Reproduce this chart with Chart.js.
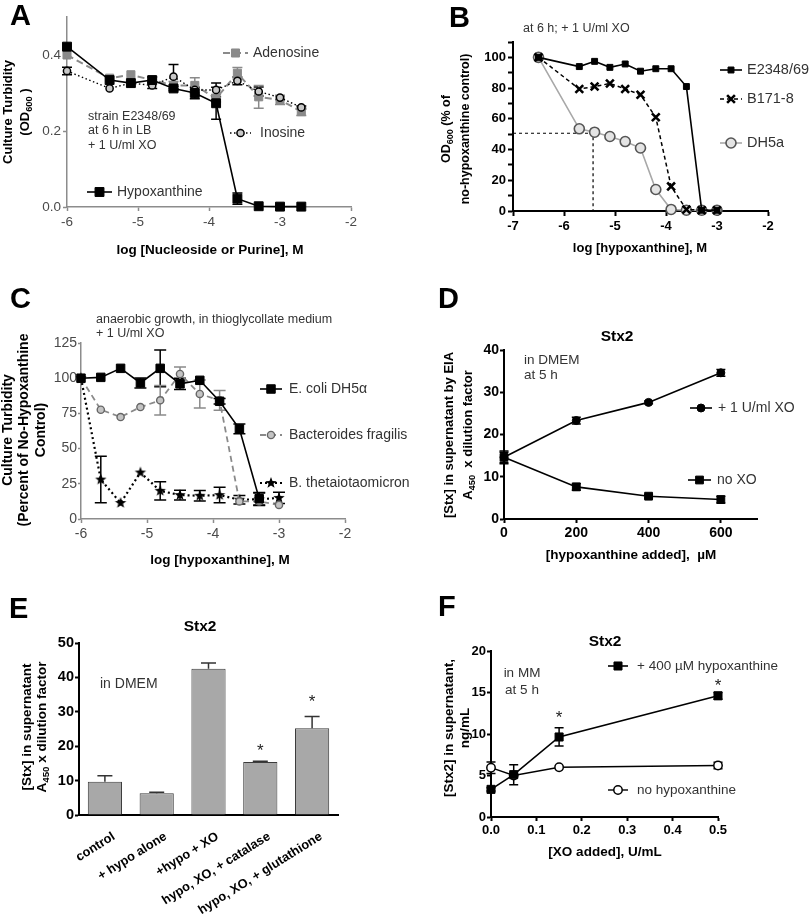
<!DOCTYPE html>
<html>
<head>
<meta charset="utf-8">
<title>Hypoxanthine / xanthine oxidase figure</title>
<script src="https://cdn.jsdelivr.net/npm/chart.js@4.4.1/dist/chart.umd.min.js"></script>
<style>
  body { margin: 0; background: #fff; }
  #fig { position: relative; width: 812px; height: 916px; overflow: hidden; }
  #fig canvas { position: absolute; }
  .tag { position: absolute; font: bold 29px "Liberation Sans", Arial, sans-serif; line-height: 29px; color: #000; }
</style>
</head>
<body>
<div id="fig">
  <canvas id="panel-a"></canvas>
  <canvas id="panel-b"></canvas>
  <canvas id="panel-c"></canvas>
  <canvas id="panel-d"></canvas>
  <canvas id="panel-e"></canvas>
  <canvas id="panel-f"></canvas>
  <div class="tag" style="left:10px;top:1px">A</div>
  <div class="tag" style="left:449px;top:3px">B</div>
  <div class="tag" style="left:10px;top:284px">C</div>
  <div class="tag" style="left:438px;top:284px">D</div>
  <div class="tag" style="left:9px;top:594px">E</div>
  <div class="tag" style="left:438px;top:592px">F</div>
</div>
<script>
const FONT = '"Liberation Sans", Arial, Helvetica, sans-serif';

/* A - turbidity vs log [nucleoside or purine] */
const aLogConc  = [-6, -5.4, -5.1, -4.8, -4.5, -4.2, -3.9, -3.6, -3.3, -3.0, -2.7];
const aHypo     = [0.422, 0.334, 0.326, 0.334, 0.312, 0.300, 0.273, 0.022, 0.002, 0.001, 0.001];
const aHypoErr  = [0, 0, 0, 0.008, 0.006, 0.015, 0.042, 0.015, 0, 0, 0];
const aIno      = [0.358, 0.312, 0.326, 0.320, 0.343, 0.308, 0.308, 0.332, 0.304, 0.288, 0.262];
const aInoErr   = [0.01, 0, 0, 0.008, 0.032, 0, 0.018, 0.01, 0.012, 0.005, 0.004];
const aAdeno    = [0.400, 0.339, 0.348, 0.334, 0.320, 0.320, 0.286, 0.352, 0.290, 0.282, 0.251];
const aAdenoErr = [0, 0, 0, 0, 0.01, 0.02, 0.01, 0.015, 0.03, 0.012, 0.01];

/* B - % of no-hypoxanthine control, three strains */
const bLogConc = [-6.5, -5.7, -5.4, -5.1, -4.8, -4.5, -4.2, -3.9, -3.6, -3.3, -3.0];
const bE2348   = [100, 94, 97.4, 93.5, 95.7, 91, 92.6, 92.6, 81, 0.5, 0.5];
const bB171    = [100, 79.4, 81, 83, 79.4, 75.7, 61, 16, 1, 0.5, 0.5];
const bDH5a    = [100, 53.5, 51.3, 48.5, 45.2, 41, 14, 1, 0.5, 0.5, 0.5];
const bHalfX   = [-7, -5.43, -5.43];   // dashed guide to the DH5a 50% point
const bHalfY   = [50.6, 50.6, 0];

/* C - anaerobic growth */
const cLogConc  = [-6, -5.7, -5.4, -5.1, -4.8, -4.5, -4.2, -3.9, -3.6, -3.3, -3.0];
const cEcoli    = [100, 100.6, 107, 96.6, 107, 96, 98.5, 83.6, 64, 14.4, null];
const cEcoliErr = [0, 0, 0, 3.5, 13, 4, 0, 2, 3.5, 4.5, 0];
const cFrag     = [100, 77.6, 72.4, 79.5, 84.3, 103, 88.8, 84.3, 12.5, 12.5, 10];
const cFragErr  = [0, 0, 0, 0, 10.5, 5, 10, 7, 0, 0, 0];
const cTheta    = [100, 28, 11.4, 33, 20, 17, 16.5, 17, 13.7, 14, 15];
const cThetaErr = [0, 16.5, 0, 0, 6.5, 3.5, 3.7, 5.5, 3, 4.5, 4];

/* D - Stx by EIA vs hypoxanthine */
const dHypo     = [0, 200, 400, 600];
const dXO       = [14.6, 23.3, 27.6, 34.6];
const dXOErr    = [1.5, 0.8, 0.3, 0.8];
const dNoXO     = [14.6, 7.6, 5.4, 4.6];
const dNoXOErr  = [1.2, 0.8, 0.4, 0.8];

/* E - Stx2 bars */
const eLabels = ['control', '+ hypo alone', '+hypo + XO', 'hypo, XO, + catalase', 'hypo, XO, + glutathione'];
const eStx    = [9.7, 6.3, 42.5, 15.4, 25.2];
const eStxErr = [1.7, 0.3, 1.7, 0.2, 3.4];
const eStars  = [null, null, null, 19.9, 34];

/* F - Stx2 vs XO */
const fXO        = [0, 0.05, 0.15, 0.5];
const fHypo      = [3.33, 5.1, 9.64, 14.6];
const fHypoErr   = [0.2, 1.2, 1.1, 0.4];
const fNoHypo    = [5.94, 5.0, 6.0, 6.2];
const fNoHypoErr = [0.7, 0, 0, 0.4];
const fStars     = [null, null, 12.4, 16.3];

function pts(xs, ys) {
  const out = [];
  xs.forEach((x, i) => { if (ys[i] !== null) out.push({ x: x, y: ys[i] }); });
  return out;
}

// filled star marker for B. thetaiotaomicron
function starImage(r) {
  const c = document.createElement('canvas');
  c.width = c.height = 2 * r + 2;
  const g = c.getContext('2d');
  g.fillStyle = '#000';
  g.beginPath();
  for (let k = 0; k < 10; k++) {
    const rr = k % 2 ? r * 0.42 : r;
    const a = -Math.PI / 2 + k * Math.PI / 5;
    g.lineTo(r + 1 + rr * Math.cos(a), r + 1 + rr * Math.sin(a));
  }
  g.closePath();
  g.fill();
  return c;
}

// text with _{sub} parts, optionally rotated
function drawRich(ctx, t, x, y) {
  const size = t.size || 14;
  const weight = t.bold ? 'bold ' : '';
  const parts = t.text.split(/(_\{[^}]*\})/).filter(s => s).map(s =>
    s.indexOf('_{') === 0 ? { s: s.slice(2, -1), sub: true } : { s: s, sub: false });
  ctx.save();
  ctx.translate(x, y);
  if (t.rot) ctx.rotate(t.rot * Math.PI / 180);
  ctx.fillStyle = t.color || '#000';
  ctx.textBaseline = 'middle';
  ctx.textAlign = 'left';
  let total = 0;
  parts.forEach(p => {
    p.font = weight + (p.sub ? size * 0.72 : size) + 'px ' + FONT;
    ctx.font = p.font;
    p.w = ctx.measureText(p.s).width;
    total += p.w;
  });
  let cx = t.align === 'left' ? 0 : (t.align === 'right' ? -total : -total / 2);
  parts.forEach(p => {
    ctx.font = p.font;
    ctx.fillText(p.s, cx, p.sub ? size * 0.32 : 0);
    cx += p.w;
  });
  ctx.restore();
}

function drawErr(chart) {
  const ctx = chart.ctx;
  const ys = chart.scales.y;
  chart.data.datasets.forEach((ds, i) => {
    if (!ds.err) return;
    const meta = chart.getDatasetMeta(i);
    ctx.save();
    ctx.strokeStyle = ds.errColor || ds.borderColor;
    ctx.lineWidth = ds.errWidth || 1.5;
    ctx.setLineDash([]);
    meta.data.forEach((el, j) => {
      const e = ds.err[j];
      if (!e) return;
      const d = ds.data[j];
      const v = typeof d === 'object' ? d.y : d;
      const top = ys.getPixelForValue(v + e);
      const bot = ds.errUp ? ys.getPixelForValue(v) : ys.getPixelForValue(v - e);
      const w = ds.errCap || 4;
      ctx.beginPath();
      ctx.moveTo(el.x, top); ctx.lineTo(el.x, bot);
      ctx.moveTo(el.x - w, top); ctx.lineTo(el.x + w, top);
      if (!ds.errUp) { ctx.moveTo(el.x - w, bot); ctx.lineTo(el.x + w, bot); }
      ctx.stroke();
    });
    ctx.restore();
  });
}

const errorBars = {
  id: 'errorBars',
  beforeDatasetsDraw(chart) { if (chart.config.type !== 'bar') drawErr(chart); },
  afterDatasetsDraw(chart) { if (chart.config.type === 'bar') drawErr(chart); }
};
Chart.register(errorBars);

// titles and notes, positions given in page pixels
function textLayer(items) {
  return {
    id: 'textLayer',
    afterDraw(chart) {
      const ox = chart.canvas.offsetLeft, oy = chart.canvas.offsetTop;
      items.forEach(t => drawRich(chart.ctx, t, t.x - ox, t.y - oy));
    }
  };
}

// legend entries placed next to the curves
function inlineLegend(items, size) {
  return {
    id: 'inlineLegend',
    afterDraw(chart) {
      const ctx = chart.ctx;
      const ox = chart.canvas.offsetLeft, oy = chart.canvas.offsetTop;
      items.forEach(it => {
        const ds = chart.data.datasets[it.ds];
        const y = it.y - oy;
        ctx.save();
        ctx.strokeStyle = ds.borderColor;
        ctx.lineWidth = ds.borderWidth;
        ctx.setLineDash(ds.borderDash || []);
        ctx.beginPath();
        ctx.moveTo(it.x1 - ox, y);
        ctx.lineTo(it.x2 - ox, y);
        ctx.stroke();
        ctx.setLineDash([]);
        ctx.fillStyle = ds.pointBackgroundColor;
        ctx.strokeStyle = ds.pointBorderColor;
        ctx.lineWidth = ds.pointBorderWidth;
        Chart.helpers.drawPoint(ctx, { pointStyle: ds.pointStyle, radius: ds.pointRadius,
          borderWidth: ds.pointBorderWidth, rotation: 0 }, (it.x1 + it.x2) / 2 - ox, y);
        ctx.restore();
        drawRich(ctx, { text: it.text, size: size, color: '#333', align: 'left' }, it.tx - ox, y);
      });
    }
  };
}

// significance asterisks
function starMarks(xs, ys) {
  return {
    id: 'starMarks',
    afterDatasetsDraw(chart) {
      const ctx = chart.ctx;
      xs.forEach((x, i) => {
        if (ys[i] === null) return;
        const px = chart.scales.x.getPixelForValue(x);
        const py = chart.scales.y.getPixelForValue(ys[i]);
        ctx.save();
        ctx.font = '17px ' + FONT;
        ctx.fillStyle = '#222';
        ctx.textAlign = 'center';
        ctx.textBaseline = 'alphabetic';
        ctx.fillText('*', px, py + 9);
        ctx.restore();
      });
    }
  };
}

function axis(o) {
  const ax = {
    type: o.type || 'linear',
    border: { display: true, color: o.color, width: o.bw },
    grid: { display: o.marks !== false, drawOnChartArea: false, drawTicks: true,
            tickLength: o.tl, tickColor: o.color, tickWidth: o.bw, color: o.color },
    ticks: { color: o.tc, padding: o.pad, autoSkip: false, includeBounds: false,
             maxRotation: o.rot || 0, minRotation: o.rot || 0,
             font: { family: FONT, size: o.fs, weight: o.bold ? 'bold' : 'normal' } }
  };
  if (o.min !== undefined) { ax.min = o.min; ax.max = o.max; }
  if (o.step) ax.ticks.stepSize = o.step;
  if (o.cb) ax.ticks.callback = o.cb;
  if (o.shift) ax.ticks.labelOffset = o.shift;
  return ax;
}

// box = canvas [left, top, w, h]; area = plot [left, top, right, bottom], page pixels
function makeChart(id, box, area, config) {
  const cv = document.getElementById(id);
  cv.width = box[2];
  cv.height = box[3];
  cv.style.left = box[0] + 'px';
  cv.style.top = box[1] + 'px';
  const o = config.options;
  o.responsive = false;
  o.animation = false;
  o.events = [];
  o.layout = { autoPadding: false,
    padding: { left: 0, top: area[1] - box[1], right: box[0] + box[2] - area[2], bottom: 0 } };
  o.plugins = { legend: { display: false }, tooltip: { enabled: false } };
  o.scales.y.afterFit = s => { s.width = area[0] - box[0]; };
  o.scales.x.afterFit = s => { s.height = box[1] + box[3] - area[3]; };
  config.data.datasets.forEach(ds => { ds.clip = false; });
  return new Chart(cv, config);
}

const GRAY_AX = { color: '#8c8c8c', bw: 1.5, tc: '#4a4a4a' };
const BLACK_AX = { color: '#000', bw: 2, tc: '#000', bold: true };
const NOTE = '#333';

/* ---------- A ---------- */
makeChart('panel-a', [0, 0, 400, 290], [67, 17, 351, 207], {
  type: 'line',
  data: { datasets: [
    { label: 'Hypoxanthine', data: pts(aLogConc, aHypo), err: aHypoErr, errCap: 5,
      borderColor: '#000', borderWidth: 1.6, pointStyle: 'rect', pointRadius: 6.3,
      pointBackgroundColor: '#000', pointBorderColor: '#000', pointBorderWidth: 1 },
    { label: 'Inosine', data: pts(aLogConc, aIno), err: aInoErr, errCap: 5,
      borderColor: '#000', borderWidth: 1.4, borderDash: [1.5, 2.5], pointStyle: 'circle', pointRadius: 3.6,
      pointBackgroundColor: '#c8c8c8', pointBorderColor: '#000', pointBorderWidth: 1.5 },
    { label: 'Adenosine', data: pts(aLogConc, aAdeno), err: aAdenoErr, errCap: 5, errColor: '#8a8a8a',
      borderColor: '#8a8a8a', borderWidth: 2, borderDash: [7, 4], pointStyle: 'rect', pointRadius: 5.7,
      pointBackgroundColor: '#8a8a8a', pointBorderColor: '#8a8a8a', pointBorderWidth: 1 }
  ]},
  options: { scales: {
    x: axis(Object.assign({ min: -6, max: -2, step: 1, tl: 4, pad: 3, fs: 13.5 }, GRAY_AX)),
    y: axis(Object.assign({ min: 0, max: 0.5, step: 0.2, tl: 4, pad: 2, fs: 13.5, cb: v => v.toFixed(1) }, GRAY_AX))
  }},
  plugins: [
    textLayer([
      { text: 'Culture Turbidity', x: 8, y: 112, size: 13, bold: true, rot: -90 },
      { text: '(OD_{600} )', x: 25, y: 112, size: 13, bold: true, rot: -90 },
      { text: 'log [Nucleoside or Purine], M', x: 210, y: 250, size: 13.5, bold: true },
      { text: 'strain E2348/69', x: 88, y: 117, size: 12.5, align: 'left', color: NOTE },
      { text: 'at 6 h in LB', x: 88, y: 131, size: 12.5, align: 'left', color: NOTE },
      { text: '+ 1 U/ml XO', x: 88, y: 146, size: 12.5, align: 'left', color: NOTE }
    ]),
    inlineLegend([
      { ds: 2, x1: 223, x2: 248, tx: 253, y: 53, text: 'Adenosine' },
      { ds: 1, x1: 230, x2: 251, tx: 260, y: 133, text: 'Inosine' },
      { ds: 0, x1: 87, x2: 112, tx: 117, y: 192, text: 'Hypoxanthine' }
    ], 14)
  ]
});

/* ---------- B ---------- */
makeChart('panel-b', [400, 0, 412, 290], [513, 42, 768, 211], {
  type: 'line',
  data: { datasets: [
    { label: 'E2348/69', data: pts(bLogConc, bE2348),
      borderColor: '#000', borderWidth: 1.6, pointStyle: 'rect', pointRadius: 4.2,
      pointBackgroundColor: '#000', pointBorderColor: '#000', pointBorderWidth: 1 },
    { label: 'B171-8', data: pts(bLogConc, bB171),
      borderColor: '#000', borderWidth: 1.5, borderDash: [4, 3], pointStyle: 'crossRot', pointRadius: 5.5,
      pointBackgroundColor: '#000', pointBorderColor: '#000', pointBorderWidth: 2.6 },
    { label: 'DH5a', data: pts(bLogConc, bDH5a),
      borderColor: '#a8a8a8', borderWidth: 1.6, pointStyle: 'circle', pointRadius: 5,
      pointBackgroundColor: '#e4e4e4', pointBorderColor: '#555', pointBorderWidth: 1.6 },
    { label: 'half', data: pts(bHalfX, bHalfY),
      borderColor: '#000', borderWidth: 1.2, borderDash: [3, 3], pointRadius: 0 }
  ]},
  options: { scales: {
    x: axis(Object.assign({ min: -7, max: -2, step: 1, tl: 5, pad: 3, fs: 13 }, BLACK_AX)),
    y: axis(Object.assign({ min: 0, max: 110, step: 10, tl: 5, pad: 2, fs: 13,
                            cb: v => (v % 20 === 0 ? v : '') }, BLACK_AX))
  }},
  plugins: [
    textLayer([
      { text: 'at 6 h; + 1 U/ml XO', x: 523, y: 29, size: 12.5, align: 'left', color: NOTE },
      { text: 'OD_{600} (% of', x: 447, y: 129, size: 12.5, bold: true, rot: -90 },
      { text: 'no-hypoxanthine control)', x: 466, y: 129, size: 12.5, bold: true, rot: -90 },
      { text: 'log [hypoxanthine], M', x: 640, y: 248, size: 13, bold: true }
    ]),
    inlineLegend([
      { ds: 0, x1: 720, x2: 742, tx: 747, y: 70, text: 'E2348/69' },
      { ds: 1, x1: 720, x2: 742, tx: 747, y: 99, text: 'B171-8' },
      { ds: 2, x1: 720, x2: 742, tx: 747, y: 143, text: 'DH5a' }
    ], 14.5)
  ]
});

/* ---------- C ---------- */
makeChart('panel-c', [0, 290, 420, 310], [81, 343, 345, 519], {
  type: 'line',
  data: { datasets: [
    { label: 'E. coli DH5\u03b1', data: pts(cLogConc, cEcoli), err: cEcoliErr, errCap: 6,
      borderColor: '#000', borderWidth: 1.6, pointStyle: 'rect', pointRadius: 6,
      pointBackgroundColor: '#000', pointBorderColor: '#000', pointBorderWidth: 1 },
    { label: 'Bacteroides fragilis', data: pts(cLogConc, cFrag), err: cFragErr, errCap: 6, errColor: '#8a8a8a',
      borderColor: '#8a8a8a', borderWidth: 1.8, borderDash: [6, 4], pointStyle: 'circle', pointRadius: 3.6,
      pointBackgroundColor: '#c4c4c4', pointBorderColor: '#666', pointBorderWidth: 1.4 },
    { label: 'B. thetaiotaomicron', data: pts(cLogConc, cTheta), err: cThetaErr, errCap: 6,
      borderColor: '#000', borderWidth: 2.2, borderDash: [2, 3], pointStyle: starImage(6),
      pointRadius: 6, pointBackgroundColor: '#000', pointBorderColor: '#000', pointBorderWidth: 0 }
  ]},
  options: { scales: {
    x: axis(Object.assign({ min: -6, max: -2, step: 1, tl: 4, pad: 3, fs: 14 }, GRAY_AX)),
    y: axis(Object.assign({ min: 0, max: 125, step: 25, tl: 3, pad: 1, fs: 14 }, GRAY_AX))
  }},
  plugins: [
    textLayer([
      { text: 'anaerobic growth, in thioglycollate medium', x: 96, y: 320, size: 12.5, align: 'left', color: NOTE },
      { text: '+ 1 U/ml XO', x: 96, y: 334, size: 12.5, align: 'left', color: NOTE },
      { text: 'Culture Turbidity', x: 8, y: 430, size: 14, bold: true, rot: -90 },
      { text: '(Percent of No-Hypoxanthine', x: 24, y: 430, size: 14, bold: true, rot: -90 },
      { text: 'Control)', x: 41, y: 430, size: 14, bold: true, rot: -90 },
      { text: 'log [hypoxanthine], M', x: 220, y: 560, size: 13.5, bold: true }
    ]),
    inlineLegend([
      { ds: 0, x1: 260, x2: 282, tx: 289, y: 389, text: 'E. coli DH5\u03b1' },
      { ds: 1, x1: 260, x2: 282, tx: 289, y: 435, text: 'Bacteroides fragilis' },
      { ds: 2, x1: 260, x2: 282, tx: 289, y: 483, text: 'B. thetaiotaomicron' }
    ], 14)
  ]
});

/* ---------- D ---------- */
makeChart('panel-d', [420, 290, 392, 310], [504, 350, 757, 519], {
  type: 'line',
  data: { datasets: [
    { label: '+ 1 U/ml XO', data: pts(dHypo, dXO), err: dXOErr, errCap: 4.5,
      borderColor: '#000', borderWidth: 1.6, pointStyle: 'circle', pointRadius: 4,
      pointBackgroundColor: '#000', pointBorderColor: '#000', pointBorderWidth: 1 },
    { label: 'no XO', data: pts(dHypo, dNoXO), err: dNoXOErr, errCap: 4.5,
      borderColor: '#000', borderWidth: 1.6, pointStyle: 'rect', pointRadius: 5.5,
      pointBackgroundColor: '#000', pointBorderColor: '#000', pointBorderWidth: 1 }
  ]},
  options: { scales: {
    x: axis(Object.assign({ min: 0, max: 700, step: 200, tl: 4, pad: 2, fs: 14 }, BLACK_AX)),
    y: axis(Object.assign({ min: 0, max: 40, step: 10, tl: 4, pad: 1, fs: 14 }, BLACK_AX))
  }},
  plugins: [
    textLayer([
      { text: 'Stx2', x: 617, y: 337, size: 15.5, bold: true },
      { text: 'in DMEM', x: 524, y: 360, size: 13.5, align: 'left', color: NOTE },
      { text: 'at 5 h', x: 524, y: 375, size: 13.5, align: 'left', color: NOTE },
      { text: '[Stx] in supernatant by EIA', x: 449, y: 435, size: 13, bold: true, rot: -90 },
      { text: 'A_{450}  x dilution factor', x: 468, y: 435, size: 13, bold: true, rot: -90 },
      { text: '[hypoxanthine added],  \u00b5M', x: 631, y: 555, size: 13.5, bold: true }
    ]),
    inlineLegend([
      { ds: 0, x1: 690, x2: 712, tx: 718, y: 408, text: '+ 1 U/ml XO' },
      { ds: 1, x1: 688, x2: 711, tx: 717, y: 480, text: 'no XO' }
    ], 14)
  ]
});

/* ---------- E ---------- */
makeChart('panel-e', [0, 600, 420, 316], [79, 643, 338, 815], {
  type: 'bar',
  data: {
    labels: eLabels,
    datasets: [{ label: 'Stx2', data: eStx, err: eStxErr, errUp: true, errCap: 7.5, errColor: '#333',
      backgroundColor: '#a8a8a8', borderColor: '#3c3c3c', borderWidth: 1,
      barPercentage: 0.66, categoryPercentage: 1 }]
  },
  options: { scales: {
    x: axis(Object.assign({ type: 'category', marks: false, tl: 0, pad: 14, shift: 9, fs: 12.8, rot: 32 }, BLACK_AX)),
    y: axis(Object.assign({ min: 0, max: 50, step: 10, tl: 4, pad: 1, fs: 14.5 }, BLACK_AX))
  }},
  plugins: [
    starMarks(eLabels.map((_, i) => i), eStars),
    textLayer([
      { text: 'Stx2', x: 200, y: 627, size: 15.5, bold: true },
      { text: 'in DMEM', x: 100, y: 684, size: 14, align: 'left', color: NOTE },
      { text: '[Stx] in supernatant', x: 27, y: 727, size: 13.5, bold: true, rot: -90 },
      { text: 'A_{450} x dilution factor', x: 42, y: 727, size: 13.5, bold: true, rot: -90 }
    ])
  ]
});

/* ---------- F ---------- */
makeChart('panel-f', [420, 600, 392, 316], [491, 651, 718, 817], {
  type: 'line',
  data: { datasets: [
    { label: '+ 400 \u00b5M hypoxanthine', data: pts(fXO, fHypo), err: fHypoErr, errCap: 4.5,
      borderColor: '#000', borderWidth: 1.6, pointStyle: 'rect', pointRadius: 5.7,
      pointBackgroundColor: '#000', pointBorderColor: '#000', pointBorderWidth: 1 },
    { label: 'no hypoxanthine', data: pts(fXO, fNoHypo), err: fNoHypoErr, errCap: 4.5,
      borderColor: '#000', borderWidth: 1.4, pointStyle: 'circle', pointRadius: 4.2,
      pointBackgroundColor: '#fff', pointBorderColor: '#000', pointBorderWidth: 1.5 }
  ]},
  options: { scales: {
    x: axis(Object.assign({ min: 0, max: 0.5, step: 0.1, tl: 4, pad: 2, fs: 13, cb: v => v.toFixed(1) }, BLACK_AX)),
    y: axis(Object.assign({ min: 0, max: 20, step: 5, tl: 4, pad: 1, fs: 13 }, BLACK_AX))
  }},
  plugins: [
    starMarks(fXO, fStars),
    textLayer([
      { text: 'Stx2', x: 605, y: 642, size: 15.5, bold: true },
      { text: 'in MM', x: 522, y: 673, size: 13.5, color: NOTE },
      { text: 'at 5 h', x: 522, y: 690, size: 13.5, color: NOTE },
      { text: '[Stx2] in supernatant,', x: 449, y: 728, size: 13.5, bold: true, rot: -90 },
      { text: 'ng/mL', x: 465, y: 728, size: 13.5, bold: true, rot: -90 },
      { text: '[XO added], U/mL', x: 605, y: 852, size: 13.5, bold: true }
    ]),
    inlineLegend([
      { ds: 0, x1: 608, x2: 628, tx: 637, y: 666, text: '+ 400 \u00b5M hypoxanthine' },
      { ds: 1, x1: 608, x2: 628, tx: 637, y: 790, text: 'no hypoxanthine' }
    ], 13.5)
  ]
});
</script>
</body>
</html>
